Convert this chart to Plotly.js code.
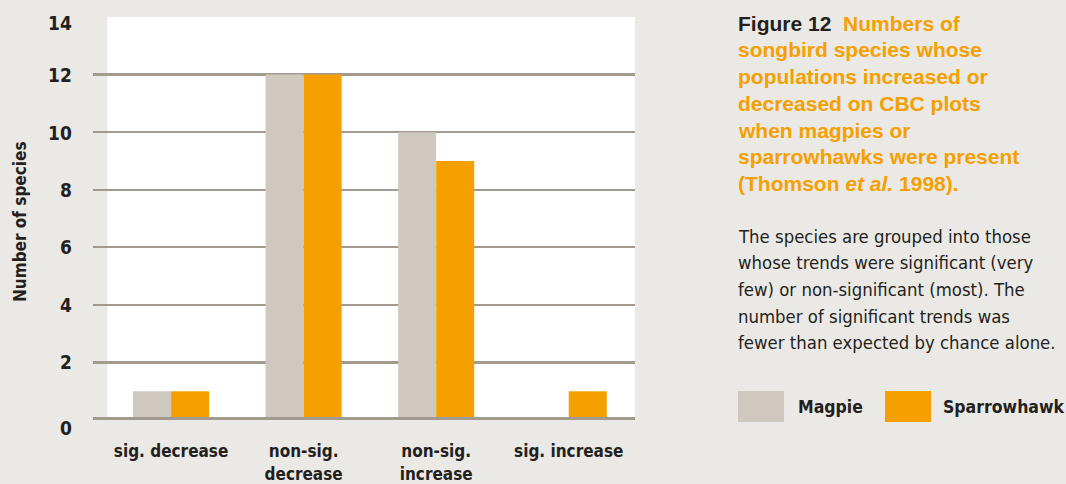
<!DOCTYPE html>
<html>
<head>
<meta charset="utf-8">
<script src="https://cdn.plot.ly/plotly-3.0.1.min.js"></script>
<style>
html,body{margin:0;padding:0;background:#ebe9e5;}
#chart{width:1066px;height:484px;}
</style>
</head>
<body>
<div id="chart"></div>
<script>
// ---- data ----
const categories = ["sig. decrease", "non-sig.<br>decrease", "non-sig.<br>increase", "sig. increase"];
const seriesNames = ["Magpie", "Sparrowhawk"];
const magpieValues = [1, 12, 10, 0];
const sparrowhawkValues = [1, 12, 9, 1];
const yTickValues = [0, 2, 4, 6, 8, 10, 12, 14];
const yAxisTitle = "Number of species";
const figureLabel = "Figure 12";
const captionLines = [
  "Numbers of",
  "songbird species whose",
  "populations increased or",
  "decreased on CBC plots",
  "when magpies or",
  "sparrowhawks were present",
  "(Thomson <i>et al.</i> 1998)."
];
const bodyLines = [
  "The species are grouped into those",
  "whose trends were significant (very",
  "few) or non-significant (most). The",
  "number of significant trends was",
  "fewer than expected by chance alone."
];

// ---- style ----
const BG = "#ebe9e5";
const GRID = "#a39a8f";
const colors = ["#cfc8bf", "#f5a000"];
const ORANGE = "#f5a000";
const DARK = "#231f20";
const NARROW = "'DejaVu Sans Condensed', 'DejaVu Sans', sans-serif";
const SANS = "'Liberation Sans', Arial, sans-serif";

const W = 1066, H = 484;
const L = 93, R = 635, T = 17, B = 420;
const fx = px => (px - L) / (R - L);
const fy = py => (B - py) / (B - T);

const traces = [magpieValues, sparrowhawkValues].map((vals, i) => ({
  type: "bar",
  name: seriesNames[i],
  x: categories,
  y: vals,
  marker: {color: colors[i], line: {width: 0}},
  hoverinfo: "x+y+name"
}));

const annotations = [];
// y tick labels
yTickValues.forEach(v => {
  annotations.push({
    xref: "paper", yref: "y", x: fx(74), y: v,
    xanchor: "right", yanchor: "middle", showarrow: false,
    yshift: v === 14 ? -6 : (v === 0 ? -8 : (v === 10 ? -1 : 0)),
    text: "<b>" + v + "</b>",
    font: {family: NARROW, size: 19, color: DARK}
  });
});
// y title
annotations.push({
  xref: "paper", yref: "paper", x: fx(20), y: fy(222),
  xanchor: "center", yanchor: "middle", showarrow: false, textangle: -90,
  text: "<b>" + yAxisTitle + "</b>",
  font: {family: NARROW, size: 17, color: DARK}
});
// caption
captionLines.forEach((line, k) => {
  const txt = k === 0
    ? '<span style="color:' + DARK + '">' + figureLabel + '</span>&nbsp;&nbsp;' + line
    : line;
  annotations.push({
    xref: "paper", yref: "paper", x: fx(736), y: fy(23 + 26.8 * k),
    xanchor: "left", yanchor: "middle", showarrow: false, align: "left",
    text: "<b>" + txt + "</b>",
    font: {family: SANS, size: 21, color: ORANGE}
  });
});
bodyLines.forEach((line, k) => {
  annotations.push({
    xref: "paper", yref: "paper", x: fx(736), y: fy(236 + 26.7 * k),
    xanchor: "left", yanchor: "middle", showarrow: false, align: "left",
    text: line,
    font: {family: NARROW, size: 18.4, color: DARK}
  });
});

// legend (custom, large swatches)
const legendItems = [{sx: 738, tx: 796}, {sx: 885, tx: 941}];
const shapes = [
  {type: "rect", layer: "below", xref: "x", yref: "y", x0: -0.48, x1: 3.5, y0: 0, y1: 14,
   fillcolor: "#ffffff", line: {width: 0}},
  {type: "line", layer: "above", xref: "paper", yref: "y", x0: 0, x1: 1, y0: 0, y1: 0,
   line: {color: GRID, width: 6}}
];
seriesNames.forEach((nm, i) => {
  const it = legendItems[i];
  shapes.push({type: "rect", xref: "paper", yref: "paper",
    x0: fx(it.sx), x1: fx(it.sx + 46), y0: fy(422), y1: fy(391),
    fillcolor: colors[i], line: {width: 0}});
  annotations.push({
    xref: "paper", yref: "paper", x: fx(it.tx), y: fy(406.5),
    xanchor: "left", yanchor: "middle", showarrow: false,
    text: "<b>" + nm + "</b>",
    font: {family: NARROW, size: 17.5, color: DARK}
  });
});

const layout = {
  width: W, height: H,
  paper_bgcolor: BG, plot_bgcolor: BG,
  margin: {l: L, r: W - R, t: T, b: H - B, pad: 0},
  showlegend: false,
  barmode: "group",
  bargap: 0.426,
  bargroupgap: 0,
  xaxis: {
    type: "category",
    range: [-0.589, 3.5],
    showgrid: false, zeroline: false, showline: false,
    ticks: "outside", ticklen: 16, tickcolor: "rgba(0,0,0,0)",
    tickfont: {family: NARROW, size: 17, color: DARK},
    fixedrange: true
  },
  yaxis: {
    range: [0, 14],
    tickvals: yTickValues,
    showticklabels: false,
    showgrid: true, gridcolor: GRID, gridwidth: 2.4,
    zeroline: false, showline: false,
    fixedrange: true
  },
  shapes: shapes,
  annotations: annotations
};

// bold x labels
layout.xaxis.tickvals = categories;
layout.xaxis.ticktext = categories.map(c => "<b>" + c.replace("<br>", "</b><br><b>") + "</b>");

Plotly.newPlot("chart", traces, layout, {displayModeBar: false, staticPlot: true});
</script>
</body>
</html>
